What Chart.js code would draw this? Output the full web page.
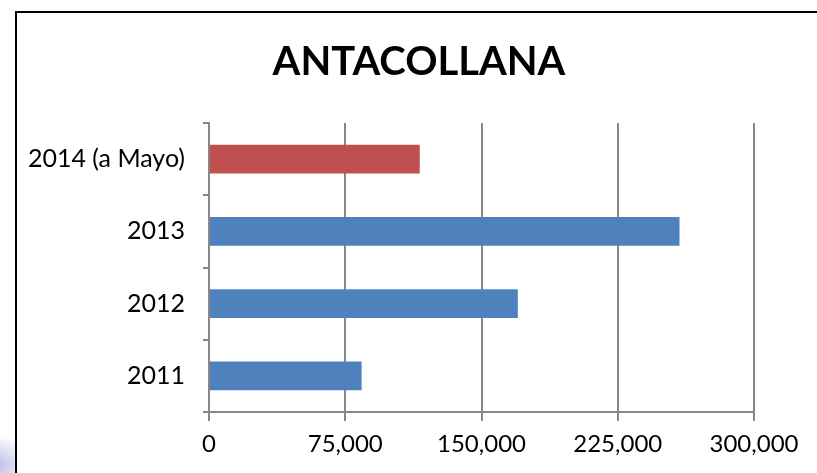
<!DOCTYPE html>
<html><head><meta charset="utf-8">
<script src="https://cdn.jsdelivr.net/npm/chart.js@4/dist/chart.umd.min.js"></script>
<style>html,body{margin:0;padding:0;background:#fff;}#wrap{width:817px;height:473px;position:relative;}</style>
</head><body><div id="wrap"><canvas id="c" width="817" height="473"></canvas></div>
<script>
const categories = ["2014 (a Mayo)", "2013", "2012", "2011"];
const values = [116000, 259000, 170000, 84000];
const barColors = ["#C0504D", "#4F81BD", "#4F81BD", "#4F81BD"];
const xTicks = [0, 75000, 150000, 225000, 300000];
const chartTitle = "ANTACOLLANA";
const FONT = "Lato, 'Open Sans', sans-serif";

const frame = {
  id: 'frame',
  beforeDraw(chart) {
    const ctx = chart.ctx;
    ctx.save();
    ctx.fillStyle = '#fff';
    ctx.fillRect(0, 0, chart.width, chart.height);
    const g = ctx.createRadialGradient(0, 465, 2, 0, 465, 30);
    g.addColorStop(0, 'rgba(150,150,210,0.55)');
    g.addColorStop(1, 'rgba(150,150,210,0)');
    ctx.fillStyle = g;
    ctx.fillRect(0, 425, 16, 48);
    ctx.strokeStyle = '#000';
    ctx.lineWidth = 2;
    ctx.beginPath();
    ctx.moveTo(16, 480);
    ctx.lineTo(16, 12);
    ctx.lineTo(830, 12);
    ctx.stroke();
    ctx.restore();
  }
};

new Chart(document.getElementById('c'), {
  type: 'bar',
  data: {
    labels: categories,
    datasets: [{ data: values, backgroundColor: barColors, borderWidth: 0,
      categoryPercentage: 0.8, barPercentage: 0.5 }]
  },
  options: {
    indexAxis: 'y',
    responsive: false,
    animation: false,
    layout: { padding: { left: 21, right: 0, top: 0, bottom: 0 } },
    plugins: {
      legend: { display: false },
      tooltip: { enabled: false },
      title: { display: true, text: chartTitle, color: '#000',
        font: { family: FONT, size: 40, weight: 'bold', lineHeight: 1.2 },
        padding: { top: 38, bottom: 37 } }
    },
    scales: {
      x: {
        min: 0, max: 300000,
        afterBuildTicks(s) { s.ticks = xTicks.map(v => ({ value: v })); },
        ticks: { color: '#000', font: { family: FONT, size: 24 }, padding: 9,
          callback: v => v.toLocaleString('en-US') },
        grid: { color: '#888', lineWidth: 2, tickLength: 9, drawTicks: true },
        border: { color: '#888', width: 2 },
        afterFit(s) { s.height = 61; }
      },
      y: {
        ticks: { color: '#000', font: { family: FONT, size: 25 }, padding: 18 },
        grid: { color: '#888', lineWidth: 2, drawOnChartArea: false, tickLength: 6, offset: true },
        border: { color: '#888', width: 2 },
        afterFit(s) { s.width = 188; }
      },
      yRight: {
        type: 'linear', axis: 'y', position: 'right',
        ticks: { display: false },
        grid: { display: false },
        border: { display: false },
        afterFit(s) { s.width = 63; }
      }
    }
  },
  plugins: [frame]
});
</script>
</body></html>
